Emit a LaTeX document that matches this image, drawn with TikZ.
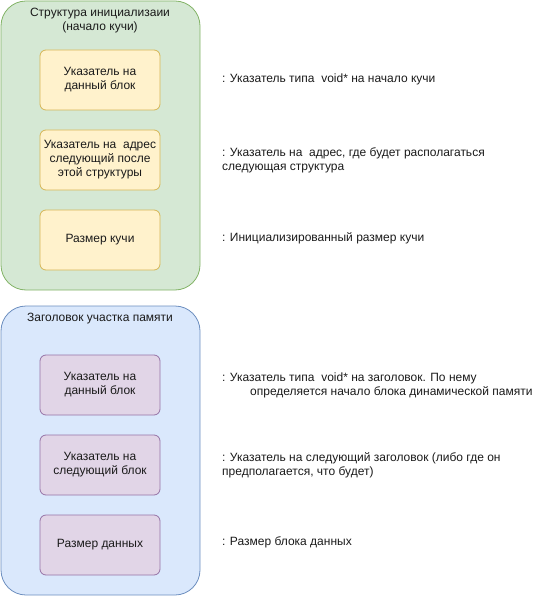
\documentclass[tikz,border=0pt]{standalone}
\usepackage{fontspec}
\setmainfont{Liberation Sans}
\definecolor{gfill}{HTML}{D5E8D4}
\definecolor{gline}{HTML}{82B366}
\definecolor{bfill}{HTML}{DAE8FC}
\definecolor{bline}{HTML}{6C8EBF}
\definecolor{yfill}{HTML}{FFF2CC}
\definecolor{yline}{HTML}{D6B656}
\definecolor{pfill}{HTML}{E1D5E7}
\definecolor{pline}{HTML}{9673A6}
\definecolor{txt}{HTML}{1A1A1A}
\tikzset{
  cont/.style={rounded corners=25pt, line width=0.8pt},
  ybox/.style={draw=yline, fill=yfill, rounded corners=6pt, line width=0.8pt, minimum width=120pt, minimum height=60pt, align=center, inner sep=0pt, text=txt, font=\fontsize{12}{14}\selectfont},
  pbox/.style={draw=pline, fill=pfill, rounded corners=6pt, line width=0.8pt, minimum width=120pt, minimum height=60pt, align=center, inner sep=0pt, text=txt, font=\fontsize{12}{14}\selectfont},
  ttl/.style={align=center, inner sep=0pt, text=txt, font=\fontsize{12}{14}\selectfont},
  note/.style={anchor=west, align=left, inner sep=0pt, text=txt, font=\fontsize{12}{14}\selectfont},
}
\begin{document}
\begin{tikzpicture}[x=1pt,y=-1pt]
\useasboundingbox (0,0) rectangle (551,596);
\draw[cont, draw=gline, fill=gfill] (1,1) rectangle (200,290);
\draw[cont, draw=bline, fill=bfill] (1,306) rectangle (200,595);
\node[ttl] (t1) at (100,21) {Структура инициализаии\\(начало кучи)};
\node[ttl] (t2) at (100,319) {Заголовок участка памяти};
\node[ybox] (a1) at (100,80) {Указатель на\\данный блок};
\node[ybox] (a2) at (100,160) {Указатель на\ \ адрес\\следующий после\\этой структуры};
\node[ybox] (a3) at (100,240) {Размер кучи};
\node[pbox] (b1) at (100,385) {Указатель на\\данный блок};
\node[pbox] (b2) at (100,465) {Указатель на\\следующий блок};
\node[pbox] (b3) at (100,545) {Размер данных};
\node[note] (n1) at (222,79) {: Указатель типа\ \ void* на начало кучи};
\node[note] (n2) at (222,160) {: Указатель на\ \ адрес, где будет располагаться\\следующая структура};
\node[note] (n3) at (222,238) {: Инициализированный размер кучи};
\node[note] (n4) at (222,385) {: Указатель типа\ \ void* на заголовок. По нему\\\hspace*{28pt}определяется начало блока динамической памяти};
\node[note] (n5) at (222,465) {: Указатель на следующий заголовок (либо где он\\предполагается, что будет)};
\node[note] (n6) at (222,542) {: Размер блока данных};
\end{tikzpicture}
\end{document}
